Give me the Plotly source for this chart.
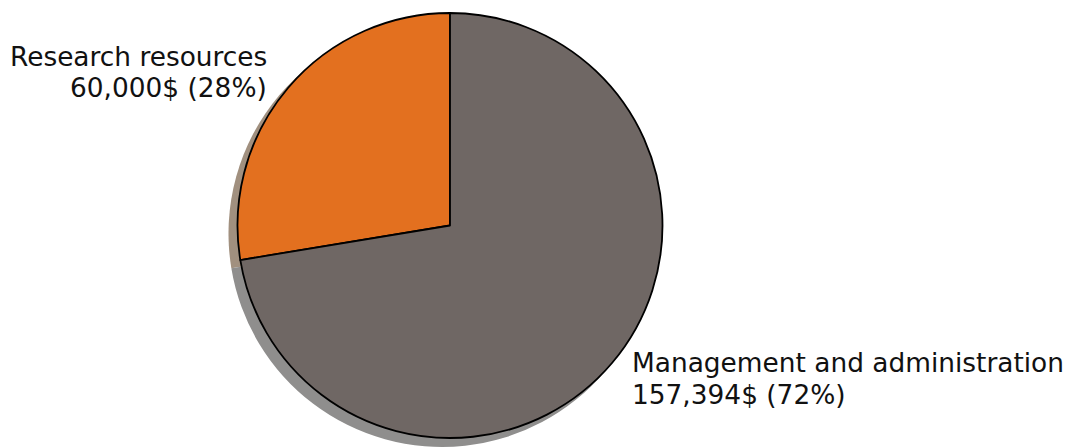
import plotly.graph_objects as go

labels = ["Research resources", "Management and administration"]
values = [60000, 157394]
colors = ["#E3701F", "#6F6764"]
shadow_colors = ["#A1907F", "#8F8E8D"]

OFF = 8  # default page body margin
W, H = 1072 - OFF, 447 - OFF + 4
cx, cy, r = 450 - OFF, 225.5 - OFF, 212.5
sdx, sdy = -8, 8

total = sum(values)
# first slice runs counterclockwise from 12 o'clock (matplotlib startangle=90)
rot = -360.0 * values[0] / total

def dom(cx, cy, r):
    y0 = max(0.0, (H - cy - r) / H)
    y1 = min(1.0, (H - cy + r) / H)
    return dict(x=[(cx - r) / W, (cx + r) / W], y=[y0, y1])

fig = go.Figure()
fig.add_trace(go.Pie(
    labels=labels, values=values, sort=False, direction="clockwise", rotation=rot,
    marker=dict(colors=shadow_colors, line=dict(width=0)),
    textinfo="none", hoverinfo="skip", showlegend=False,
    domain=dom(cx + sdx, cy + sdy, r + 1),
))
fig.add_trace(go.Pie(
    labels=labels, values=values, sort=False, direction="clockwise", rotation=rot,
    marker=dict(colors=colors, line=dict(color="black", width=1.8)),
    textinfo="none", showlegend=False,
    domain=dom(cx, cy, r),
))

font = dict(family="DejaVu Sans", size=26.4, color="#111111")
lines = [
    (labels[0], 268, 56.5, "right"),
    (f"{values[0]:,}$ ({values[0]/total*100:.0f}%)", 268, 88, "right"),
    (labels[1], 631, 362.5, "left"),
    (f"{values[1]:,}$ ({values[1]/total*100:.0f}%)", 631, 394, "left"),
]
for txt, x, y, anchor in lines:
    fig.add_annotation(text=txt, x=(x - OFF) / W, y=1 - (y - OFF) / H, xref="paper", yref="paper",
                       xanchor=anchor, yanchor="middle", showarrow=False, font=font,
                       borderpad=0)

fig.update_layout(width=W, height=H, margin=dict(l=0, r=0, t=0, b=0),
                  paper_bgcolor="white", plot_bgcolor="white")
fig.write_html("out.html")
